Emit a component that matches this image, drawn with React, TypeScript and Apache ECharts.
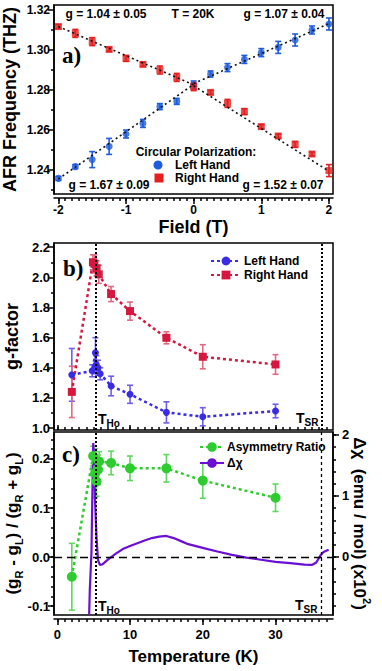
import React, { useEffect, useRef } from "react";
import * as echarts from "echarts";

// ---------- Panel a: AFR frequency vs field (T = 20 K) ----------
const fieldT = [-2, -1.75, -1.5, -1.25, -1, -0.75, -0.5, -0.25, 0, 0.25, 0.5, 0.75, 1, 1.25, 1.5, 1.75, 2];
const leftFreq = [1.2358, 1.2417, 1.2452, 1.2518, 1.258, 1.2633, 1.2717, 1.2743, 1.2825, 1.288, 1.2912, 1.2953, 1.2987, 1.3013, 1.305, 1.31, 1.313];
const leftFreqErr = [0.001, 0.001, 0.004, 0.004, 0.002, 0.002, 0.0015, 0.0015, 0.002, 0.0015, 0.002, 0.002, 0.002, 0.003, 0.003, 0.002, 0.003];
const rightFreq = [1.3117, 1.3083, 1.3042, 1.3003, 1.2958, 1.2928, 1.29, 1.2863, 1.2817, 1.2788, 1.2733, 1.2692, 1.2617, 1.257, 1.2528, 1.248, 1.2397];
const rightFreqErr = [0.001, 0.002, 0.002, 0.001, 0.0015, 0.001, 0.002, 0.002, 0.002, 0.001, 0.002, 0.0015, 0.001, 0.001, 0.0015, 0.001, 0.003];
const leftFitNeg = [[-2, 1.2355], [0, 1.2828]];
const leftFitPos = [[0, 1.2832], [2, 1.3132]];
const rightFitNeg = [[-2, 1.3117], [0, 1.2826]];
const rightFitPos = [[0, 1.2821], [2, 1.2394]];
const fieldTicks = [-2, -1, 0, 1, 2];
const freqTicks = [1.24, 1.26, 1.28, 1.3, 1.32];

// ---------- Panel b: g-factor vs temperature ----------
const tempLeft = [2, 4.8, 5.25, 5.35, 5.6, 5.9, 7.4, 10, 15, 20, 30];
const gLeft = [1.353, 1.38, 1.5, 1.42, 1.4, 1.36, 1.279, 1.224, 1.104, 1.075, 1.113];
const gLeftErr = [0.175, 0.04, 0.1, 0.06, 0.05, 0.04, 0.065, 0.06, 0.07, 0.06, 0.045];
const tempRight = [2, 4.9, 5.1, 5.4, 5.7, 7.4, 10, 15, 20, 30];
const gRight = [1.24, 2.1, 2.09, 2.06, 2.02, 1.889, 1.776, 1.599, 1.473, 1.422];
const gRightErr = [0.17, 0.05, 0.06, 0.05, 0.06, 0.05, 0.06, 0.04, 0.08, 0.065];
const gTicks = [1.0, 1.2, 1.4, 1.6, 1.8, 2.0, 2.2];

// ---------- Panel c: asymmetry ratio and delta chi ----------
const tempAsym = [2, 4.93, 5.2, 5.4, 5.6, 5.75, 7.4, 10, 15, 20, 30];
const asymRatio = [-0.04, 0.206, 0.171, 0.154, 0.178, 0.195, 0.192, 0.181, 0.181, 0.156, 0.121];
const asymErr = [0.068, 0.02, 0.05, 0.03, 0.03, 0.02, 0.024, 0.025, 0.028, 0.036, 0.028];
const tempChi = [4.38, 4.47, 4.7, 4.84, 4.95, 5.05, 5.2, 5.4, 5.6, 5.85, 6.2, 7, 8, 9, 10, 11, 12, 13, 14, 15, 16, 17, 18, 20, 22, 24, 26, 28, 30, 32, 34, 35, 35.6, 36.2, 36.6, 37.3];
const deltaChi = [-0.95, -0.54, 0.07, 1.15, 1.87, 1.6, 0.9, 0.3, -0.05, -0.13, -0.12, -0.04, 0.05, 0.13, 0.18, 0.225, 0.27, 0.31, 0.335, 0.345, 0.31, 0.26, 0.21, 0.15, 0.09, 0.035, -0.01, -0.045, -0.08, -0.1, -0.125, -0.13, -0.09, 0.03, 0.08, 0.12];
const tempTicks = [0, 10, 20, 30];
const asymTicks = [-0.1, 0, 0.1, 0.2];
const chiTicks = [0, 1, 2];
const T_HO = 5.25;
const T_SR = 36.3;

const FONT = "'Liberation Sans', Arial, sans-serif";
const BLACK = "#000";
const A_BLUE = "#1d5be0";
const A_RED = "#e61e1e";
const B_BLUE = "#3a2be6";
const B_RED = "#d6173f";
const B_BLUE_ERR = "#6e5ef0";
const B_RED_ERR = "#e36983";
const GREEN = "#2ecc2e";
const GREEN_ERR = "#5fd85f";
const PURPLE = "#6b0fd4";

function range(start: number, end: number, step: number): number[] {
  const out: number[] = [];
  const n = Math.round((end - start) / step);
  for (let i = 0; i <= n; i++) out.push(+(start + i * step).toFixed(4));
  return out;
}

const fieldMinor = range(-2, 2, 0.1);
const freqMinor = range(1.23, 1.31, 0.02);
const tempMinor = range(0, 37, 1);
const gMinor = range(1.1, 2.1, 0.2);
const asymMinor = range(-0.1, 0.24, 0.02);
const chiMinor = range(-0.8, 2, 0.2);

const zip3 = (xs: number[], ys: number[], es: number[]) => xs.map((x, i) => [x, ys[i], es[i]]);
const zip2 = (xs: number[], ys: number[]) => xs.map((x, i) => [x, ys[i]]);

function errorBars(name: string, data: number[][], xi: number, yi: number, color: string, cap = 3, width = 1.5) {
  return {
    type: "custom",
    name,
    xAxisIndex: xi,
    yAxisIndex: yi,
    data,
    dimensions: ["x", "y", "err"],
    encode: { x: 0, y: 1 },
    silent: true,
    clip: true,
    z: 2,
    renderItem: (params: any, api: any) => {
      const x = api.value(0);
      const y = api.value(1);
      const e = api.value(2);
      const top = api.coord([x, y + e]);
      const bot = api.coord([x, y - e]);
      const st = { stroke: color, lineWidth: width };
      return {
        type: "group",
        children: [
          { type: "line", shape: { x1: top[0], y1: top[1], x2: bot[0], y2: bot[1] }, style: st },
          { type: "line", shape: { x1: top[0] - cap, y1: top[1], x2: top[0] + cap, y2: top[1] }, style: st },
          { type: "line", shape: { x1: bot[0] - cap, y1: bot[1], x2: bot[0] + cap, y2: bot[1] }, style: st },
        ],
      };
    },
  };
}

const common = { type: "value", splitLine: { show: false }, nameMoveOverlap: false };
const lineSt = { color: BLACK, width: 1.5 };
const nameStyle = { fontSize: 18, fontWeight: "bold", color: BLACK, fontFamily: FONT };
const labelStyle = (size: number, margin: number, values: number[], fmt: (v: number) => string) => ({
  show: true,
  customValues: values,
  formatter: fmt,
  color: BLACK,
  fontWeight: "bold",
  fontSize: size,
  fontFamily: FONT,
  margin,
});

function minorAxis(gridIndex: number, min: number, max: number, position: string, values: number[], inside = false, offset = 0) {
  return {
    ...common,
    gridIndex,
    min,
    max,
    position,
    offset,
    axisLine: { show: false, onZero: false },
    axisTick: { show: true, inside, customValues: values, length: 3, lineStyle: lineSt },
    axisLabel: { show: false },
  };
}

const A_X = [-2.065, 2.06];
const A_Y = [1.228, 1.3225];
const B_X = [-0.45, 37.9];
const B_Y = [0.987, 2.228];
const C_Y = [-0.118, 0.255];
const C_Y2 = [-0.951, 2.049];

export default function App() {
  const ref = useRef<HTMLDivElement>(null);
  useEffect(() => {
    if (!ref.current) return;
    const chart = echarts.init(ref.current, null, { renderer: "svg" });
    const subRich = {
      m: { fontSize: 17, fontWeight: "bold", fontFamily: FONT, color: BLACK, verticalAlign: "top", lineHeight: 17 },
      s: { fontSize: 11, fontWeight: "bold", fontFamily: FONT, color: BLACK, verticalAlign: "top", lineHeight: 11, padding: [9, 0, 0, 0] },
    };
    const supRich = {
      m: { fontSize: 17, fontWeight: "bold", fontFamily: FONT, color: BLACK, verticalAlign: "top", lineHeight: 17, padding: [4, 0, 0, 0] },
      p: { fontSize: 11, fontWeight: "bold", fontFamily: FONT, color: BLACK, verticalAlign: "top", lineHeight: 11 },
    };
    const tRich = {
      t: { fontSize: 14, fontWeight: "bold", fontFamily: FONT, color: BLACK, verticalAlign: "top", lineHeight: 14 },
      s: { fontSize: 10, fontWeight: "bold", fontFamily: FONT, color: BLACK, verticalAlign: "top", lineHeight: 10, padding: [6, 0, 0, 0] },
    };
    const gText = (text: string, x: number, y: number, align = "center", size = 12) => ({
      type: "text",
      x,
      y,
      silent: true,
      style: { text, fontSize: size, fontWeight: "bold", fontFamily: FONT, fill: BLACK, align, verticalAlign: "middle" },
    });
    const panelLabel = (text: string, x: number, y: number) => ({
      type: "text",
      x,
      y,
      silent: true,
      style: { text, fontSize: 23, fontWeight: "bold", fontFamily: "'Liberation Serif', 'DejaVu Serif', serif", fill: BLACK, align: "left", verticalAlign: "middle" },
    });
    const tLabel = (sub: string, x: number, y: number) => ({
      type: "text",
      x,
      y,
      silent: true,
      style: { text: `{t|T}{s|${sub}}`, rich: tRich, align: "left", verticalAlign: "middle" },
    });

    const option: any = {
      animation: false,
      backgroundColor: "#fff",
      textStyle: { fontFamily: FONT },
      grid: [
        { left: 54, top: 5, width: 279, height: 189, show: true, borderColor: BLACK, borderWidth: 1.5, backgroundColor: "transparent", outerBoundsMode: "none" },
        { left: 54, top: 243, width: 279, height: 187, show: true, borderColor: BLACK, borderWidth: 1.5, backgroundColor: "transparent", outerBoundsMode: "none" },
        { left: 54, top: 432, width: 279, height: 183, show: true, borderColor: BLACK, borderWidth: 1.5, backgroundColor: "transparent", outerBoundsMode: "none" },
      ],
      xAxis: [
        {
          ...common,
          gridIndex: 0,
          min: A_X[0],
          max: A_X[1],
          position: "bottom",
          offset: 4,
          axisLine: { show: true, onZero: false, lineStyle: lineSt },
          axisTick: { show: true, customValues: fieldTicks, length: 6, lineStyle: lineSt },
          axisLabel: labelStyle(12, 6, fieldTicks, (v: number) => String(v)),
          name: "Field (T)",
          nameLocation: "middle",
          nameGap: 20,
          nameTextStyle: nameStyle,
        },
        minorAxis(0, A_X[0], A_X[1], "bottom", fieldMinor, false, 4),
        {
          ...common,
          gridIndex: 1,
          min: B_X[0],
          max: B_X[1],
          position: "bottom",
          axisLine: { show: false, onZero: false },
          axisTick: { show: true, inside: true, customValues: tempTicks, length: 5, lineStyle: lineSt },
          axisLabel: { show: false },
        },
        minorAxis(1, B_X[0], B_X[1], "bottom", tempMinor, true, 0),
        {
          ...common,
          gridIndex: 2,
          min: B_X[0],
          max: B_X[1],
          position: "bottom",
          offset: 4,
          axisLine: { show: true, onZero: false, lineStyle: lineSt },
          axisTick: { show: true, customValues: tempTicks, length: 6, lineStyle: lineSt },
          axisLabel: labelStyle(13, 9, tempTicks, (v: number) => String(v)),
          name: "Temperature (K)",
          nameLocation: "middle",
          nameGap: 29,
          nameTextStyle: { ...nameStyle, fontSize: 17 },
        },
        minorAxis(2, B_X[0], B_X[1], "bottom", tempMinor, false, 4),
      ],
      yAxis: [
        {
          ...common,
          gridIndex: 0,
          min: A_Y[0],
          max: A_Y[1],
          position: "left",
          axisLine: { show: true, onZero: false, lineStyle: lineSt },
          axisTick: { show: true, customValues: freqTicks, length: 6, lineStyle: lineSt },
          axisLabel: labelStyle(12, 4, freqTicks, (v: number) => v.toFixed(2)),
          name: "AFR Frequency (THZ)",
          nameLocation: "middle",
          nameGap: 35,
          nameTextStyle: nameStyle,
        },
        minorAxis(0, A_Y[0], A_Y[1], "left", freqMinor),
        {
          ...common,
          gridIndex: 1,
          min: B_Y[0],
          max: B_Y[1],
          position: "left",
          axisLine: { show: true, onZero: false, lineStyle: lineSt },
          axisTick: { show: true, customValues: gTicks, length: 6, lineStyle: lineSt },
          axisLabel: labelStyle(13, 4, gTicks, (v: number) => v.toFixed(1)),
          name: "g-factor",
          nameLocation: "middle",
          nameGap: 33,
          nameTextStyle: nameStyle,
        },
        minorAxis(1, B_Y[0], B_Y[1], "left", gMinor),
        {
          ...common,
          gridIndex: 2,
          min: C_Y[0],
          max: C_Y[1],
          position: "left",
          axisLine: { show: true, onZero: false, lineStyle: lineSt },
          axisTick: { show: true, customValues: asymTicks, length: 6, lineStyle: lineSt },
          axisLabel: labelStyle(13, 4, asymTicks, (v: number) => v.toFixed(1)),
          name: "{m|(g}{s|R}{m| - g}{s|L}{m|) / (g}{s|R}{m| + g}{s|L}{m|)}",
          nameLocation: "middle",
          nameGap: 33,
          nameTextStyle: { ...nameStyle, fontSize: 17, rich: subRich },
        },
        minorAxis(2, C_Y[0], C_Y[1], "left", asymMinor),
        {
          ...common,
          gridIndex: 2,
          min: C_Y2[0],
          max: C_Y2[1],
          position: "right",
          axisLine: { show: true, onZero: false, lineStyle: lineSt },
          axisTick: { show: true, customValues: chiTicks, length: 6, lineStyle: lineSt },
          axisLabel: labelStyle(13, 9, chiTicks, (v: number) => String(v)),
          name: "{m|Δχ  (emu / mol) (x10}{p|2}{m|)}",
          nameLocation: "middle",
          nameRotate: -90,
          nameGap: 22,
          nameTextStyle: { ...nameStyle, fontSize: 17, rich: supRich },
        },
        minorAxis(2, C_Y2[0], C_Y2[1], "right", chiMinor),
      ],
      legend: [
        {
          data: ["Left Hand", "Right Hand"],
          orient: "vertical",
          left: 205,
          top: 250,
          itemWidth: 30,
          itemHeight: 11,
          itemGap: 2,
          textStyle: { fontSize: 12, fontWeight: "bold", color: BLACK, fontFamily: FONT, padding: [0, 0, 0, -2] },
          selectedMode: false,
        },
        {
          data: ["Asymmetry Ratio", "Δχ"],
          orient: "vertical",
          left: 194,
          top: 436,
          itemWidth: 24,
          itemHeight: 12,
          itemGap: 4,
          textStyle: { fontSize: 12, fontWeight: "bold", color: BLACK, fontFamily: FONT, padding: [0, 0, 0, -2] },
          selectedMode: false,
        },
      ],
      graphic: [
        panelLabel("a)", 62, 55),
        panelLabel("b)", 63, 268),
        panelLabel("c)", 62, 454),
        gText("g = 1.04 ± 0.05", 106, 14),
        gText("T = 20K", 193, 14),
        gText("g = 1.07 ± 0.04", 284, 14),
        gText("g = 1.67 ± 0.09", 109, 185),
        gText("g = 1.52 ± 0.07", 283, 185),
        gText("Circular Polarization:", 196, 152),
        { type: "circle", silent: true, shape: { cx: 158, cy: 165, r: 4.5 }, style: { fill: A_BLUE } },
        gText("Left Hand", 175, 165, "left"),
        { type: "rect", silent: true, shape: { x: 154.5, y: 173.5, width: 9, height: 9 }, style: { fill: A_RED } },
        gText("Right Hand", 175, 178, "left"),
        tLabel("Ho", 98, 419),
        tLabel("SR", 296, 418),
        tLabel("Ho", 98, 606),
        tLabel("SR", 295, 605),
      ],
      series: [
        // Panel a
        errorBars("LH err", zip3(fieldT, leftFreq, leftFreqErr), 0, 0, A_BLUE, 3, 1.6),
        errorBars("RH err", zip3(fieldT, rightFreq, rightFreqErr), 0, 0, A_RED, 3, 1.6),
        { type: "scatter", name: "LH 20K", xAxisIndex: 0, yAxisIndex: 0, data: zip2(fieldT, leftFreq), symbol: "circle", symbolSize: 7, itemStyle: { color: A_BLUE }, z: 3 },
        { type: "scatter", name: "RH 20K", xAxisIndex: 0, yAxisIndex: 0, data: zip2(fieldT, rightFreq), symbol: "rect", symbolSize: 7, itemStyle: { color: A_RED }, z: 3 },
        ...[leftFitNeg, leftFitPos, rightFitNeg, rightFitPos].map((d, i) => ({
          type: "line",
          name: `fit${i}`,
          xAxisIndex: 0,
          yAxisIndex: 0,
          data: d,
          symbol: "none",
          silent: true,
          z: 5,
          lineStyle: { color: "#111", width: 1.6, type: [2, 3] },
        })),
        // Panel b
        errorBars("gL err", zip3(tempLeft, gLeft, gLeftErr), 2, 2, B_BLUE_ERR, 3, 1.6),
        errorBars("gR err", zip3(tempRight, gRight, gRightErr), 2, 2, B_RED_ERR, 3, 1.6),
        {
          type: "line",
          name: "Left Hand",
          xAxisIndex: 2,
          yAxisIndex: 2,
          data: zip2(tempLeft, gLeft),
          symbol: "circle",
          symbolSize: 7,
          itemStyle: { color: B_BLUE },
          lineStyle: { color: B_BLUE, width: 2.5, type: [3, 3] },
          z: 3,
          markLine: {
            silent: true,
            symbol: "none",
            label: { show: false },
            lineStyle: { color: BLACK, width: 2, type: [2, 2] },
            data: [{ xAxis: T_HO }, { xAxis: T_SR }],
          },
        },
        {
          type: "line",
          name: "Right Hand",
          xAxisIndex: 2,
          yAxisIndex: 2,
          data: zip2(tempRight, gRight),
          symbol: "rect",
          symbolSize: 8,
          itemStyle: { color: B_RED },
          lineStyle: { color: B_RED, width: 2.5, type: [3, 3] },
          z: 3,
        },
        // Panel c
        errorBars("asym err", zip3(tempAsym, asymRatio, asymErr), 4, 4, GREEN_ERR, 3, 1.6),
        {
          type: "line",
          name: "Asymmetry Ratio",
          xAxisIndex: 4,
          yAxisIndex: 4,
          data: zip2(tempAsym, asymRatio),
          symbol: "circle",
          symbolSize: 10,
          itemStyle: { color: GREEN },
          lineStyle: { color: GREEN, width: 2.5, type: [3, 3] },
          z: 4,
          markLine: {
            silent: true,
            symbol: "none",
            label: { show: false },
            data: [
              { yAxis: 0, lineStyle: { color: BLACK, width: 1.3, type: [8, 5] } },
              { xAxis: T_HO, lineStyle: { color: BLACK, width: 2, type: [2, 2] } },
              { xAxis: T_SR, lineStyle: { color: BLACK, width: 1.3, type: [3, 3] } },
            ],
          },
        },
        {
          type: "line",
          name: "Δχ",
          xAxisIndex: 4,
          yAxisIndex: 6,
          data: zip2(tempChi, deltaChi),
          symbol: "none",
          itemStyle: { color: PURPLE },
          lineStyle: { color: PURPLE, width: 2.2 },
          z: 3,
        },
      ],
    };
    chart.setOption(option);
    return () => chart.dispose();
  }, []);
  return <div ref={ref} style={{ position: "absolute", left: 0, top: 0, width: 382, height: 671 }} />;
}
